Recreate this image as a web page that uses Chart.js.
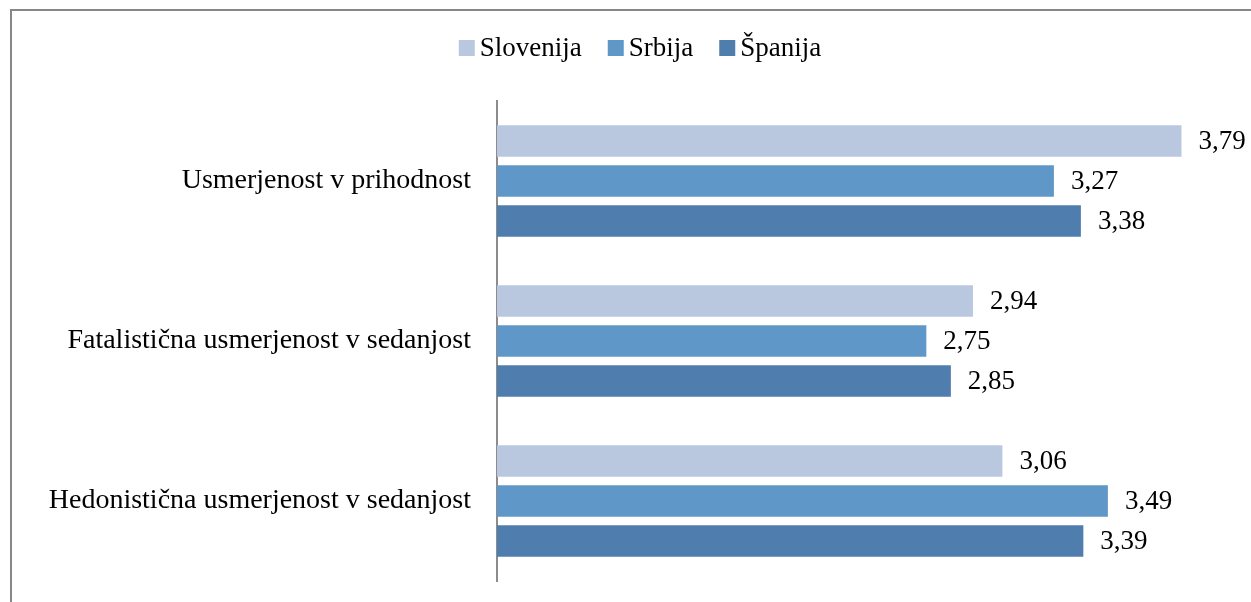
<!DOCTYPE html>
<html>
<head>
<meta charset="utf-8">
<title>Časovna usmerjenost</title>
<script src="https://cdn.jsdelivr.net/npm/chart.js@4/dist/chart.umd.min.js"></script>
<style>
	html, body { margin: 0; padding: 0; background: #fff; }
	canvas { display: block; }
</style>
</head>
<body>
<canvas id="chart" width="1251" height="602"></canvas>
<script>
const categories = [
	'Usmerjenost v prihodnost',
	'Fatalistična usmerjenost v sedanjost',
	'Hedonistična usmerjenost v sedanjost',
];
const seriesNames = ['Slovenija', 'Srbija', 'Španija'];
const slovenija = [3.79, 2.94, 3.06];
const srbija = [3.27, 2.75, 3.49];
const spanija = [3.38, 2.85, 3.39];

const colors = ['#b9c7df', '#6097c9', '#4f7dad'];
const serif = '"Liberation Serif", "DejaVu Serif", serif';

// grey frame along the top and left edge
const frame = {
	id: 'frame',
	beforeDraw(chart) {
		const ctx = chart.ctx;
		ctx.save();
		ctx.fillStyle = '#878787';
		ctx.fillRect(10, 9, chart.width - 10, 2);
		ctx.fillRect(10, 9, 2, chart.height - 9);
		ctx.restore();
	},
};

// legend row: small square, then the name
const legendRow = {
	id: 'legendRow',
	afterDraw(chart) {
		const ctx = chart.ctx;
		const box = 16, gap = 5, spacing = 26, cy = 48, center = 640;
		ctx.save();
		ctx.font = `27px ${serif}`;
		ctx.textBaseline = 'middle';
		const widths = chart.data.datasets.map(ds => ctx.measureText(ds.label).width);
		let total = widths.reduce((s, w) => s + box + gap + w, 0) + spacing * (widths.length - 1);
		let x = center - total / 2;
		chart.data.datasets.forEach((ds, i) => {
			ctx.fillStyle = ds.backgroundColor;
			ctx.fillRect(x, cy - box / 2, box, box);
			ctx.fillStyle = '#000';
			ctx.fillText(ds.label, x + box + gap, cy + 1);
			x += box + gap + widths[i] + spacing;
		});
		ctx.restore();
	},
};

// value next to the end of each bar, decimal comma
const barValues = {
	id: 'barValues',
	afterDatasetsDraw(chart) {
		const ctx = chart.ctx;
		ctx.save();
		ctx.font = `27px ${serif}`;
		ctx.fillStyle = '#000';
		ctx.textBaseline = 'middle';
		ctx.textAlign = 'left';
		chart.data.datasets.forEach((ds, i) => {
			chart.getDatasetMeta(i).data.forEach((bar, j) => {
				ctx.fillText(ds.data[j].toFixed(2).replace('.', ','), bar.x + 17, bar.y + 1);
			});
		});
		ctx.restore();
	},
};

const series = [slovenija, srbija, spanija];

new Chart(document.getElementById('chart'), {
	type: 'bar',
	data: {
		labels: categories,
		datasets: series.map((data, i) => ({
			label: seriesNames[i],
			data: data,
			backgroundColor: colors[i],
			categoryPercentage: 0.75,
			barPercentage: 0.79,
		})),
	},
	options: {
		indexAxis: 'y',
		responsive: false,
		animation: false,
		devicePixelRatio: 1,
		layout: {
			padding: { top: 101, bottom: 21, right: 18, left: 0 },
		},
		plugins: {
			legend: { display: false },
			tooltip: { enabled: false },
		},
		scales: {
			x: {
				display: false,
				min: 1,
				max: 4,
			},
			y: {
				grid: { display: false, drawTicks: false },
				border: { display: true, color: '#8c8c8c', width: 2 },
				ticks: {
					color: '#000',
					padding: 26,
					font: { family: serif, size: 28 },
				},
				afterFit(scale) {
					// fixed axis width; labels sit at the category centres, no extra room
					scale.width = 497;
					scale.paddingTop = 0;
					scale.paddingBottom = 0;
				},
			},
		},
	},
	plugins: [frame, legendRow, barValues],
});
</script>
</body>
</html>
